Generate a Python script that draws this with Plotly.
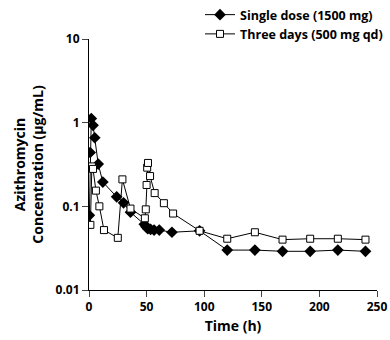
import plotly.graph_objects as go

# Single dose (1500 mg)
single_t = [0.3, 1, 2, 3.5, 5, 8, 12, 24, 30, 36, 48, 49.5, 51, 53.5, 56.5, 61, 72, 96, 120, 144, 168, 192, 216, 240]
single_c = [0.078, 0.44, 1.12, 0.93, 0.66, 0.32, 0.195, 0.13, 0.11, 0.085, 0.061, 0.057, 0.054, 0.053, 0.052, 0.052, 0.049, 0.051, 0.030, 0.030, 0.029, 0.029, 0.030, 0.029]

# Three days (500 mg qd)
three_t = [1.2, 2.5, 3.5, 6, 9, 13, 25, 29, 36, 48.5, 49.3, 50, 50.5, 51.2, 53, 57, 65, 73, 96, 120, 144, 168, 192, 216, 240]
three_c = [0.060, 0.30, 0.28, 0.154, 0.10, 0.052, 0.042, 0.21, 0.094, 0.072, 0.092, 0.18, 0.29, 0.33, 0.23, 0.144, 0.109, 0.082, 0.051, 0.041, 0.049, 0.040, 0.041, 0.041, 0.040]

x_ticks = [0, 50, 100, 150, 200, 250]
y_ticks = [0.01, 0.1, 1, 10]
y_tick_text = ["0.01", "0.1", "1", "10"]

FONT = "Open Sans"
W, H = 390, 340

fig = go.Figure()
fig.add_trace(go.Scatter(
    x=single_t, y=single_c, mode="lines+markers", name="Single dose (1500 mg)",
    line=dict(color="black", width=1),
    marker=dict(symbol="diamond", size=9, color="black", line=dict(color="black", width=0)),
))
fig.add_trace(go.Scatter(
    x=three_t, y=three_c, mode="lines+markers", name="Three days (500 mg qd)",
    line=dict(color="black", width=1),
    marker=dict(symbol="square", size=7, color="white", line=dict(color="black", width=1)),
))

fig.update_layout(
    width=W, height=H,
    margin=dict(l=89, r=13, t=39, b=50, autoexpand=False),
    paper_bgcolor="white", plot_bgcolor="white",
    font=dict(family=FONT, size=12, color="black", weight="bold"),
    showlegend=True,
    legend=dict(xref="container", yref="container", x=200 / W, y=1.0,
                xanchor="left", yanchor="top",
                bgcolor="rgba(0,0,0,0)", borderwidth=0, itemwidth=30, tracegroupgap=0,
                font=dict(size=12.5, family=FONT, weight="bold")),
    xaxis=dict(
        range=[0, 250], tickvals=x_ticks, ticks="outside", ticklen=6, tickwidth=1,
        showline=True, linecolor="black", linewidth=1, showgrid=False, zeroline=False,
        title=dict(text="Time (h)", font=dict(size=14, family=FONT, weight="bold"), standoff=6),
        tickfont=dict(size=12, family=FONT, weight="bold"), automargin=False,
    ),
    yaxis=dict(
        type="log", range=[-2, 1], tickvals=y_ticks, ticktext=y_tick_text,
        ticks="outside", ticklen=6, tickwidth=1,
        showline=True, linecolor="black", linewidth=1, showgrid=False, zeroline=False,
        title=dict(text="Azithromycin<br>Concentration (µg/mL)", font=dict(size=14, family=FONT, weight="bold"), standoff=8),
        tickfont=dict(size=12, family=FONT, weight="bold"), automargin=False,
    ),
)

fig.write_html(
    "out.html",
    config={"displayModeBar": False},
    post_script="document.body.style.margin='0';document.body.style.padding='0';",
)
